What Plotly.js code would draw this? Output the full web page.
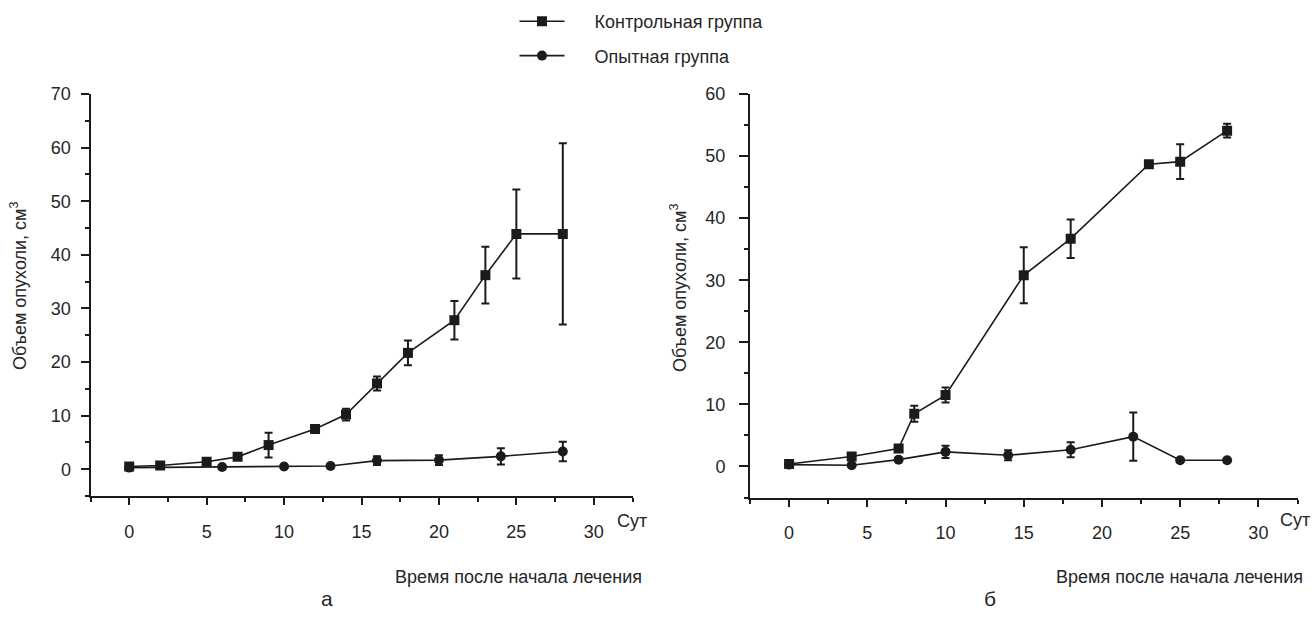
<!DOCTYPE html>
<html>
<head>
<meta charset="utf-8">
<script src="https://cdn.plot.ly/plotly-3.0.1.min.js"></script>
<style>html,body{margin:0;padding:0;background:#fff;}#chart{width:1312px;height:630px;}</style>
</head>
<body>
<div id="chart"></div>
<script>
// Panel "а"
var ctrlA_x   = [0, 2, 5, 7, 9, 12, 14, 16, 18, 21, 23, 25, 28];
var ctrlA_y   = [0.5, 0.7, 1.4, 2.3, 4.5, 7.5, 10.2, 16.0, 21.7, 27.8, 36.2, 43.9, 43.9];
var ctrlA_err = [0, 0, 0, 0, 2.3, 0.5, 1.1, 1.3, 2.3, 3.6, 5.3, 8.3, 16.9];
var expA_x    = [0, 6, 10, 13, 16, 20, 24, 28];
var expA_y    = [0.3, 0.4, 0.5, 0.6, 1.6, 1.7, 2.4, 3.3];
var expA_err  = [0, 0, 0, 0, 0.8, 0.9, 1.5, 1.8];
// Panel "б"
var ctrlB_x   = [0, 4, 7, 8, 10, 15, 18, 23, 25, 28];
var ctrlB_y   = [0.4, 1.6, 2.9, 8.5, 11.5, 30.8, 36.7, 48.7, 49.1, 54.1];
var ctrlB_err = [0, 0, 0, 1.3, 1.2, 4.5, 3.1, 0, 2.8, 1.1];
var expB_x    = [0, 4, 7, 10, 14, 18, 22, 25, 28];
var expB_y    = [0.3, 0.2, 1.1, 2.35, 1.8, 2.7, 4.8, 1.0, 1.0];
var expB_err  = [0, 0, 0, 1.0, 0.8, 1.2, 3.9, 0, 0];

var seriesNames = ["Контрольная группа", "Опытная группа"];
var yTitle = "Объем опухоли, см<sup>3</sup>";
var xTitle = "Время после начала лечения";
var unitLabel = "Сут";
var panelLabels = ["а", "б"];

var INK = "#1b1b1b";
var TXT = "#262626";
var FONT = "Liberation Sans, Arial, sans-serif";
var W = 1312, H = 630;
var PAD = "\u00a0\u00a0\u00a0\u00a0\u00a0";
function px(x){ return x / W; }
function py(y){ return 1 - y / H; }

function trace(x, y, err, name, symbol, xa, ya, show){
  return {
    type: "scatter", mode: "lines+markers", x: x, y: y, name: PAD + name,
    xaxis: xa, yaxis: ya, showlegend: show, legendgroup: name,
    line: {color: INK, width: 1.6},
    marker: {symbol: symbol, size: 10, color: INK},
    error_y: {type: "data", array: err, visible: true, color: INK, thickness: 2, width: 4}
  };
}

var data = [
  trace(ctrlA_x, ctrlA_y, ctrlA_err, seriesNames[0], "square", "x", "y", true),
  trace(expA_x, expA_y, expA_err, seriesNames[1], "circle", "x", "y", true),
  trace(ctrlB_x, ctrlB_y, ctrlB_err, seriesNames[0], "square", "x2", "y2", false),
  trace(expB_x, expB_y, expB_err, seriesNames[1], "circle", "x2", "y2", false)
];

function xaxisDef(dom, anchor){
  return {
    domain: dom, anchor: anchor, range: [-2.5, 32.5], tick0: 0, dtick: 5,
    showgrid: false, zeroline: false, showline: true, linewidth: 2, linecolor: INK,
    ticks: "outside", ticklen: 7, tickwidth: 2, tickcolor: INK,
    ticklabelstandoff: 11,
    minor: {dtick: 2.5, ticks: "outside", ticklen: 4, tickwidth: 2, tickcolor: INK},
    tickfont: {family: FONT, size: 18, color: TXT}, fixedrange: true
  };
}
function yaxisDef(dom, anchor, top, tlen, standoff){
  return {
    domain: dom, anchor: anchor, range: [-5, top], tick0: 0, dtick: 10,
    showgrid: false, zeroline: false, showline: true, linewidth: 2, linecolor: INK,
    ticks: "outside", ticklen: tlen, tickwidth: 2, tickcolor: INK,
    ticklabelstandoff: standoff,
    minor: {dtick: 5, ticks: "outside", ticklen: 4, tickwidth: 2, tickcolor: INK},
    tickfont: {family: FONT, size: 18, color: TXT}, fixedrange: true
  };
}

var layout = {
  width: W, height: H,
  margin: {l: 0, r: 0, t: 0, b: 0},
  paper_bgcolor: "#fff", plot_bgcolor: "#fff",
  font: {family: FONT, color: TXT},
  xaxis: xaxisDef([px(90.5), px(632.5)], "y"),
  yaxis: yaxisDef([py(496), py(94)], "x", 70, 8, 6),
  xaxis2: xaxisDef([px(750), px(1297.5)], "y2"),
  yaxis2: yaxisDef([py(497.5), py(94)], "x2", 60, 9, 10),
  showlegend: true,
  legend: {
    x: px(514.5), y: py(3), xanchor: "left", yanchor: "top",
    font: {family: FONT, size: 18, color: TXT},
    bgcolor: "rgba(0,0,0,0)", borderwidth: 0,
    itemwidth: 45, traceorder: "grouped", tracegroupgap: 8
  },
  annotations: [
    {xref: "paper", yref: "paper", x: px(632), y: py(521), text: unitLabel, showarrow: false,
     xanchor: "center", yanchor: "middle", font: {family: FONT, size: 18, color: TXT}},
    {xref: "paper", yref: "paper", x: px(1295), y: py(520), text: unitLabel, showarrow: false,
     xanchor: "center", yanchor: "middle", font: {family: FONT, size: 18, color: TXT}},
    {xref: "paper", yref: "paper", x: px(644), y: py(577), text: xTitle, showarrow: false,
     xanchor: "right", yanchor: "middle", font: {family: FONT, size: 18, color: TXT}},
    {xref: "paper", yref: "paper", x: px(1305), y: py(577), text: xTitle, showarrow: false,
     xanchor: "right", yanchor: "middle", font: {family: FONT, size: 18, color: TXT}},
    {xref: "paper", yref: "paper", x: px(19), y: py(286), text: yTitle, showarrow: false,
     textangle: -90, xanchor: "center", yanchor: "middle", font: {family: FONT, size: 18, color: TXT}},
    {xref: "paper", yref: "paper", x: px(679), y: py(288), text: yTitle, showarrow: false,
     textangle: -90, xanchor: "center", yanchor: "middle", font: {family: FONT, size: 18, color: TXT}},
    {xref: "paper", yref: "paper", x: px(327), y: py(598), text: panelLabels[0], showarrow: false,
     xanchor: "center", yanchor: "middle", font: {family: FONT, size: 21, color: TXT}},
    {xref: "paper", yref: "paper", x: px(990), y: py(598), text: panelLabels[1], showarrow: false,
     xanchor: "center", yanchor: "middle", font: {family: FONT, size: 21, color: TXT}}
  ]
};

Plotly.newPlot("chart", data, layout, {staticPlot: true, displayModeBar: false});
</script>
</body>
</html>
